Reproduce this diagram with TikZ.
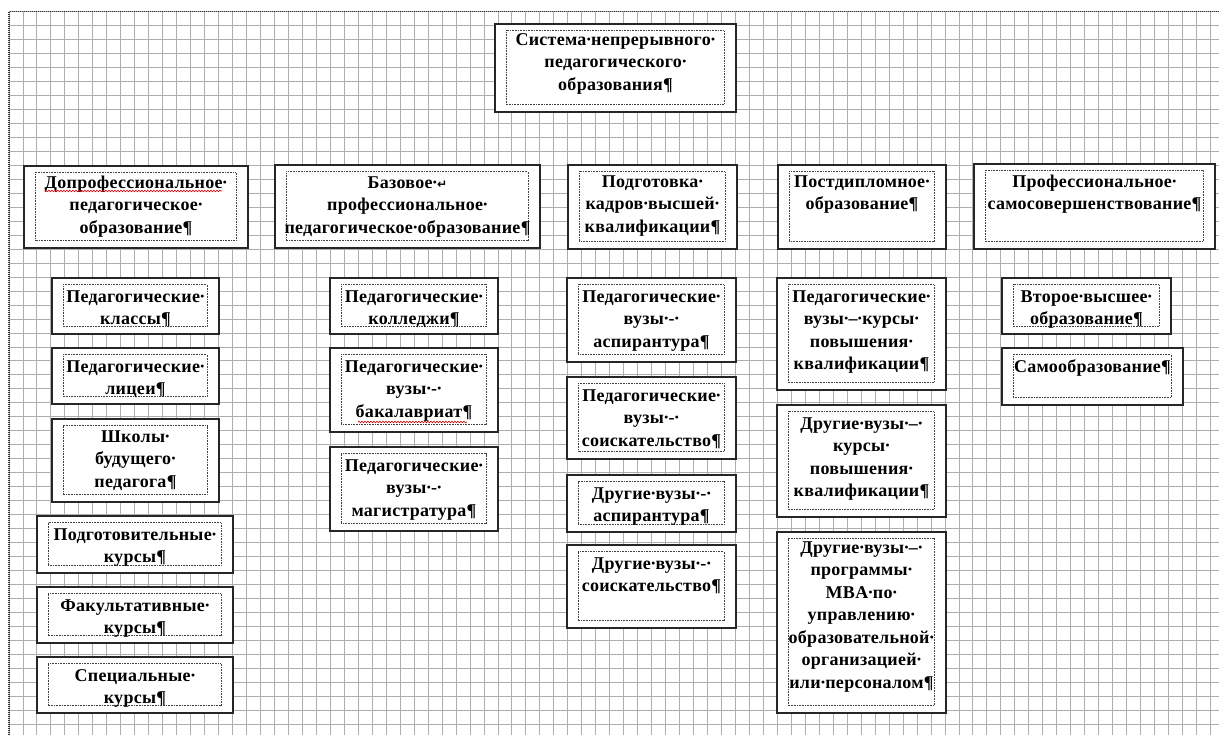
\documentclass[tikz,border=0pt]{standalone}
\usepackage{fontspec}
\setmainfont{Liberation Serif}[LetterSpace=1.5]
\newfontfamily\symf{DejaVu Sans}
\usetikzlibrary{decorations.pathmorphing}
\newcommand\dt{\makebox[0.26em]{·}}
\newcommand\pil{¶}
\tikzset{
 obox/.style={draw=black!85, line width=1.3pt, fill=white, rectangle, inner sep=0pt, outer sep=0pt},
 ibox/.style={draw=black!75, line width=0.7pt, dash pattern=on 0.8pt off 0.8pt},
 txt/.style={align=center, inner sep=0pt, font=\bfseries\fontsize{18}{22.5}\selectfont},
 gridl/.style={draw=black!32, line width=0.9pt},
 pageb/.style={draw=black!80, line width=1.2pt, dash pattern=on 1pt off 1pt},
 spell/.style={draw=red!85!black, line width=0.6pt, decorate, decoration={snake, amplitude=0.8pt, segment length=3pt}},
}
% #1 baseline offset, #2 name, #3 x1, #4 y1, #5 x2, #6 y2, #7 text
\newcommand\bx[7][23]{%
 \node[obox, minimum width={(#5-#3)*1pt}, minimum height={(#6-#4)*1pt}] (#2) at ({(#3+#5)/2},{-(#4+#6)/2}) {};
 \draw[ibox] ([shift={(11,-6.5)}]#2.north west) rectangle ([shift={(-12,7.5)}]#2.south east);
 \node[txt, anchor=north] (#2-t) at ([yshift={-(#1-15)*1pt}]#2.north) {\rule{0pt}{15pt}#7};
}
\begin{document}
\begin{tikzpicture}[x=1pt,y=1pt]
\useasboundingbox (0,0) rectangle (1219,-735);
\fill[white] (0,0) rectangle (1219,-735);
\draw[gridl, shift={(9,-11.7)}, step=13.97pt] (0,0) grid (1210,-724);
\draw[pageb] (9,-735) -- (9,-11.7) -- (1219,-11.7);

\bx[21]{top}{495}{24}{736}{112}{Система\dt непрерывного\dt\\педагогического\dt\\образования\pil}

\bx[22]{h1}{24}{166}{248}{248}{Допрофессиональное\dt\\педагогическое\dt\\образование\pil}
\bx[23]{h2}{275}{165}{540}{248}{Базовое\dt{\symf\fontsize{12}{12}\selectfont ↵}\\профессиональное\dt\\педагогическое\dt образование\pil}
\bx[22]{h3}{568}{165}{737}{249}{Подготовка\dt\\кадров\dt высшей\dt\\квалификации\pil}
\bx[22]{h4}{778}{165}{946}{249}{Постдипломное\dt\\образование\pil}
\bx[23]{h5}{974}{164}{1215}{249}{Профессиональное\dt\\самосовершенствование\pil}

\bx[24]{c1a}{52}{278}{219}{334}{Педагогические\dt\\классы\pil}
\bx[24]{c1b}{52}{348}{219}{404}{Педагогические\dt\\лицеи\pil}
\bx[23]{c1c}{52}{419}{219}{502}{Школы\dt\\будущего\dt\\педагога\pil}
\bx[24]{c1d}{37}{516}{233}{573}{Подготовительные\dt\\курсы\pil}
\bx[24]{c1e}{37}{587}{233}{643}{Факультативные\dt\\курсы\pil}
\bx[24]{c1f}{37}{657}{233}{713}{Специальные\dt\\курсы\pil}

\bx[24]{c2a}{330}{278}{498}{334}{Педагогические\dt\\колледжи\pil}
\bx[24]{c2b}{330}{348}{498}{432}{Педагогические\dt\\вузы\dt-\dt\\бакалавриат\pil}
\bx[24]{c2c}{330}{447}{498}{531}{Педагогические\dt\\вузы\dt-\dt\\магистратура\pil}

\bx[24]{c3a}{567}{278}{736}{362}{Педагогические\dt\\вузы\dt-\dt\\аспирантура\pil}
\bx[24]{c3b}{567}{377}{736}{459}{Педагогические\dt\\вузы\dt-\dt\\соискательство\pil}
\bx[24]{c3c}{567}{475}{736}{532}{Другие\dt вузы\dt-\dt\\аспирантура\pil}
\bx[24]{c3d}{567}{545}{736}{628}{Другие\dt вузы\dt-\dt\\соискательство\pil}

\bx[24]{c4a}{777}{278}{946}{390}{Педагогические\dt\\вузы\dt–\dt курсы\dt\\повышения\dt\\квалификации\pil}
\bx[24]{c4b}{777}{405}{946}{517}{Другие\dt вузы\dt–\dt\\курсы\dt\\повышения\dt\\квалификации\pil}
\bx[21]{c4c}{777}{532}{946}{713}{Другие\dt вузы\dt–\dt\\программы\dt\\MBA\dt по\dt\\управлению\dt\\образовательной\dt\\организацией\dt\\или\dt персоналом\pil}

\bx[24]{c5a}{1002}{278}{1171}{334}{Второе\dt высшее\dt\\образование\pil}
\bx[24]{c5b}{1002}{348}{1183}{405}{Самообразование\pil}

% spelling marks
\draw[spell] (45,-191) -- (222,-191);
\draw[spell] (358,-422) -- (467,-422);
\end{tikzpicture}
\end{document}
